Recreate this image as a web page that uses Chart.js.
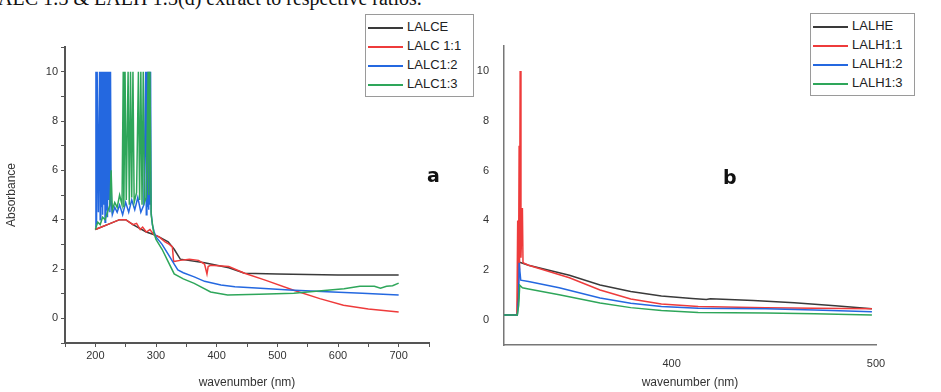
<!DOCTYPE html>
<html>
<head>
<meta charset="utf-8">
<script src="https://cdn.jsdelivr.net/npm/chart.js@4"></script>
<style>
  body { margin: 0; background: #fff; width: 941px; height: 392px; overflow: hidden; position: relative; font-family: "Liberation Sans", Arial, sans-serif; }
  #capA { position: absolute; left: 0; top: 0; width: 470px; height: 392px; }
  #capB { position: absolute; left: 470px; top: 0; width: 471px; height: 392px; }
  .legend { position: absolute; background: #fff; border: 1px solid #9a9a9a; padding: 2px 3px 3px 2px; font-size: 13px; color: #222; }
  .legend div { height: 19px; line-height: 19px; white-space: nowrap; }
  .legend span.sw { display: inline-block; width: 35px; height: 2px; vertical-align: middle; margin-right: 4px; }
  .tag { position: absolute; font: bold 19px "DejaVu Sans", sans-serif; color: #111; }
  #caption { position: absolute; left: -2px; top: -13px; font: 20px "Liberation Serif", serif; color: #111; white-space: nowrap; }
</style>
</head>
<body>
<div id="caption">ALC 1:3 &amp; LALH 1:3(d) extract to respective ratios.</div>
<canvas id="capA" width="470" height="392"></canvas>
<canvas id="capB" width="471" height="392"></canvas>
<div class="legend" id="legA" style="left:365px; top:14px; width:102px;"></div>
<div class="legend" id="legB" style="left:810px; top:13px; width:98px;"></div>
<div class="tag" style="left:427px; top:164px;">a</div>
<div class="tag" style="left:723px; top:166px;">b</div>
<script>
// panel a - LALC extracts
const aLabels = ['LALCE', 'LALC 1:1', 'LALC1:2', 'LALC1:3'];

const aBlackX = [200, 220, 240, 250, 262, 284, 296, 305, 320, 330, 340, 380, 420, 446, 500, 600, 700];
const aBlackY = [3.6, 3.8, 4.0, 4.0, 3.8, 3.5, 3.4, 3.3, 3.1, 2.8, 2.4, 2.25, 2.05, 1.83, 1.8, 1.76, 1.76];

const aRedX = [200, 210, 220, 230, 240, 250, 256, 262, 268, 274, 278, 284, 290, 296, 305, 315, 322, 327, 329, 340,
  355, 370, 380, 384, 386, 390, 420, 446, 480, 527, 570, 609, 650, 700];
const aRedY = [3.6, 3.7, 3.8, 3.9, 4.0, 4.0, 3.9, 3.8, 3.85, 3.6, 3.7, 3.5, 3.6, 3.4, 3.3, 3.1, 3.0, 2.9, 2.3, 2.35,
  2.4, 2.35, 2.2, 1.8, 2.1, 2.15, 2.1, 1.83, 1.55, 1.14, 0.8, 0.53, 0.38, 0.26];

const aBlueX = [200, 201, 202, 203, 205, 207, 208, 209, 210, 211, 212, 213, 214, 215, 216, 217, 218, 219, 220, 221,
  222, 223, 224, 225, 226, 228, 232, 236, 240, 245, 250, 255, 260, 265, 270, 275, 280, 283, 284, 285,
  286, 287, 288, 289, 290, 291, 292, 294, 297, 300, 310, 320, 330, 336, 345, 363, 380, 407, 430, 472,
  520, 582, 640, 700];
const aBlueY = [3.7, 10, 3.8, 10, 4.3, 10, 4.0, 10, 4.5, 10, 4.2, 10, 4.6, 10, 3.9, 10, 4.4, 10, 4.1, 10,
  4.8, 10, 4.3, 10, 4.8, 4.2, 4.5, 4.3, 4.6, 4.2, 4.7, 4.3, 4.8, 4.4, 4.9, 4.3, 4.6, 10, 4.2, 10,
  4.5, 10, 4.4, 10, 4.6, 10, 4.3, 3.8, 3.5, 3.3, 3.0, 2.6, 2.2, 1.96, 1.85, 1.68, 1.5, 1.35, 1.28, 1.22,
  1.15, 1.08, 1.02, 0.95];

const aGreenX = [200, 204, 208, 212, 216, 220, 224, 226, 228, 232, 236, 240, 244, 246, 247, 249, 251, 254, 256, 258,
  260, 262, 264, 268, 271, 273, 275, 277, 279, 281, 284, 287, 288, 290, 292, 296, 300, 310, 320, 330,
  345, 363, 390, 418, 470, 527, 582, 610, 636, 660, 670, 680, 690, 700];
const aGreenY = [3.6, 3.9, 3.8, 4.1, 4.0, 4.3, 4.6, 6.0, 4.4, 4.7, 4.5, 5.0, 4.6, 10, 4.5, 10, 4.8, 10, 4.6, 10,
  4.9, 10, 4.7, 5.1, 10, 4.8, 10, 4.6, 10, 4.7, 4.9, 10, 5.0, 10, 4.2, 3.5, 3.2, 2.8, 2.3, 1.8,
  1.6, 1.42, 1.07, 0.95, 0.98, 1.02, 1.14, 1.2, 1.3, 1.3, 1.22, 1.3, 1.32, 1.43];

// panel b - LALH extracts
const bLabels = ['LALHE', 'LALH1:1', 'LALH1:2', 'LALH1:3'];

const bBlackX = [318, 324.5, 325.3, 330, 340, 350, 365, 380, 395, 410, 417, 419, 440, 460, 480, 498];
const bBlackY = [0.2, 0.2, 2.33, 2.2, 2.0, 1.8, 1.41, 1.15, 0.97, 0.87, 0.83, 0.86, 0.79, 0.7, 0.58, 0.45];

const bRedX = [318, 324.3, 324.7, 325.1, 325.4, 325.6, 325.9, 326.3, 327, 327.3, 330, 340, 350, 365, 380, 395, 413, 446, 470, 498];
const bRedY = [0.2, 0.2, 4, 1.5, 7, 2, 10, 2.5, 4.5, 2.3, 2.2, 1.95, 1.7, 1.21, 0.85, 0.65, 0.55, 0.49, 0.47, 0.45];

const bBlueX = [318, 324.5, 325.2, 325.4, 326.2, 330, 345, 365, 380, 395, 413, 446, 470, 498];
const bBlueY = [0.2, 0.2, 0.9, 2.3, 1.6, 1.55, 1.3, 0.89, 0.68, 0.55, 0.47, 0.45, 0.4, 0.33];

const bGreenX = [318, 324.5, 325.2, 325.7, 327, 330, 345, 365, 380, 395, 413, 446, 470, 498];
const bGreenY = [0.2, 0.2, 0.6, 1.4, 1.3, 1.25, 1.02, 0.69, 0.5, 0.38, 0.3, 0.28, 0.25, 0.2];

const colors = ['#3a3a3a', '#ee3b3b', '#2468e0', '#2ea65a'];

function pts(xs, ys) {
  return xs.map((x, i) => ({ x: x, y: ys[i] }));
}

function makeSets(labels, series) {
  return series.map((s, i) => ({
    label: labels[i],
    data: pts(s[0], s[1]),
    borderColor: colors[i],
    backgroundColor: colors[i],
    borderWidth: 1.5,
    pointRadius: 0,
    tension: 0,
    fill: false,
    order: 3 - i
  }));
}

function fillLegend(id, labels) {
  let el = document.getElementById(id);
  labels.forEach((l, i) => {
    let row = document.createElement('div');
    row.innerHTML = '<span class="sw" style="background:' + colors[i] + '"></span>' + l;
    el.appendChild(row);
  });
}

Chart.defaults.font.family = '"Liberation Sans", Arial, sans-serif';
Chart.defaults.color = '#333';

const chartA = new Chart(document.getElementById('capA'), {
  type: 'line',
  data: {
    datasets: makeSets(aLabels, [[aBlackX, aBlackY], [aRedX, aRedY], [aBlueX, aBlueY], [aGreenX, aGreenY]])
  },
  options: {
    responsive: false,
    animation: false,
    layout: { padding: { left: 0, top: 47, right: 41, bottom: 0 } },
    plugins: { legend: { display: false }, tooltip: { enabled: false } },
    scales: {
      x: {
        type: 'linear',
        min: 150, max: 750,
        afterFit: s => { s.height = 49; },
        border: { color: '#555', width: 2 },
        grid: { drawOnChartArea: false, drawTicks: true, tickLength: 4, color: '#555' },
        ticks: {
          stepSize: 50, autoSkip: false, maxRotation: 0, padding: 2,
          font: { size: 11 },
          callback: v => (v % 100 === 0 ? String(v) : '')
        },
        title: { display: true, text: 'wavenumber (nm)', font: { size: 12 }, padding: { top: 0, bottom: 2 } }
      },
      y: {
        min: -1, max: 11,
        afterFit: s => { s.width = 65; },
        border: { color: '#555', width: 2 },
        grid: { drawOnChartArea: false, drawTicks: true, tickLength: 4, color: '#555' },
        ticks: {
          stepSize: 1, autoSkip: false, padding: 3,
          font: { size: 11 },
          callback: v => (v >= 0 && v % 2 === 0 ? String(v) : '')
        },
        title: { display: true, text: 'Absorbance', font: { size: 12 }, padding: { top: 4, bottom: 6 } }
      }
    }
  }
});

const chartB = new Chart(document.getElementById('capB'), {
  type: 'line',
  data: {
    datasets: makeSets(bLabels, [[bBlackX, bBlackY], [bRedX, bRedY], [bBlueX, bBlueY], [bGreenX, bGreenY]])
  },
  options: {
    responsive: false,
    animation: false,
    layout: { padding: { left: 0, top: 46, right: 65, bottom: 0 } },
    plugins: { legend: { display: false }, tooltip: { enabled: false } },
    scales: {
      x: {
        type: 'linear',
        min: 318, max: 500,
        afterFit: s => { s.height = 47; },
        afterBuildTicks: s => { s.ticks = [400, 500].map(v => ({ value: v })); },
        border: { color: '#777', width: 1.5 },
        grid: { display: false },
        ticks: { autoSkip: false, maxRotation: 0, padding: 4, font: { size: 11 } },
        title: { display: true, text: 'wavenumber (nm)', font: { size: 12 }, padding: { top: 0, bottom: 2 } }
      },
      y: {
        min: -1, max: 11,
        afterFit: s => { s.width = 34; },
        border: { color: '#777', width: 1.5 },
        grid: { display: false },
        ticks: {
          stepSize: 1, autoSkip: false, padding: 7,
          font: { size: 11 },
          callback: v => (v >= 0 && v % 2 === 0 ? String(v) : '')
        }
      }
    }
  }
});

fillLegend('legA', aLabels);
fillLegend('legB', bLabels);
</script>
</body>
</html>
